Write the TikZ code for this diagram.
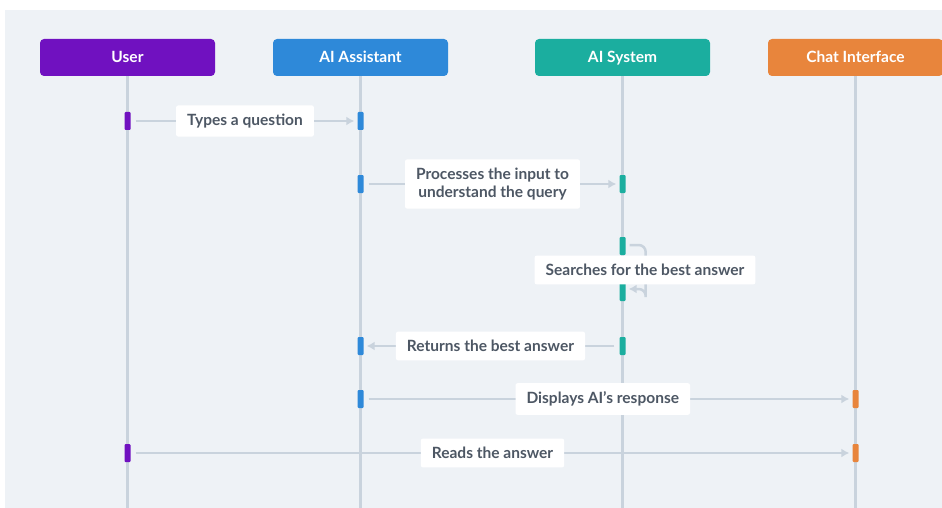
\documentclass[tikz,border=0pt]{standalone}
\usepackage{fontspec}
\setmainfont{Lato}
\usetikzlibrary{arrows.meta}
\definecolor{canvas}{HTML}{EEF2F6}
\definecolor{lifeline}{HTML}{C9D3DD}
\definecolor{msgtext}{HTML}{4D5764}
\definecolor{userc}{HTML}{7011C0}
\definecolor{assistc}{HTML}{2E89D9}
\definecolor{systemc}{HTML}{1BAE9F}
\definecolor{chatc}{HTML}{E8853C}
\tikzset{
  actor/.style={rounded corners=4pt, minimum width=175pt, minimum height=37pt,
    text=white, font=\fontsize{15.5}{18}\selectfont\bfseries, inner sep=0pt,
    text height=11pt, text depth=0pt},
  bar/.style={minimum width=6pt, minimum height=18pt, inner sep=0pt, rounded corners=1pt},
  lbl/.style={fill=white, rounded corners=2pt, text=msgtext, align=center,
    font=\fontsize{15.5}{18}\selectfont\bfseries, inner xsep=11pt, inner ysep=8.5pt},
  lifeln/.style={draw=lifeline, line width=3pt},
  msg/.style={draw=lifeline, line width=2.5pt, -{Latex[length=8pt,width=9pt]}},
}
\begin{document}
\begin{tikzpicture}[x=1pt,y=-1pt]
\useasboundingbox (0,0) rectangle (942,508);
\fill[white] (0,0) rectangle (942,508);
\fill[canvas] (5,10) rectangle (942,508);

% actor headers
\node[actor, fill=userc]   (u) at (127.5,57.5) {User};
\node[actor, fill=assistc] (a) at (360.5,57.5) {AI Assistant};
\node[actor, fill=systemc] (s) at (622.5,57.5) {AI System};
\node[actor, fill=chatc]   (c) at (855.5,57.5) {Chat Interface};

% lifeline ends
\coordinate (ue) at (127.5,508);
\coordinate (ae) at (360.5,508);
\coordinate (se) at (622.5,508);
\coordinate (ce) at (855.5,508);
\draw[lifeln] (u.south) -- (ue);
\draw[lifeln] (a.south) -- (ae);
\draw[lifeln] (s.south) -- (se);
\draw[lifeln] (c.south) -- (ce);

% activation bars
\node[bar, fill=userc]   (b1u) at (127.5,121) {};
\node[bar, fill=assistc] (b1a) at (360.5,121) {};
\node[bar, fill=assistc] (b2a) at (360.5,184) {};
\node[bar, fill=systemc] (b2s) at (622.5,184) {};
\node[bar, fill=systemc] (b3s) at (622.5,246) {};
\node[bar, fill=systemc] (b3t) at (622.5,292) {};
\node[bar, fill=assistc] (b4a) at (360.5,346) {};
\node[bar, fill=systemc] (b4s) at (622.5,346) {};
\node[bar, fill=assistc] (b5a) at (360.5,399) {};
\node[bar, fill=chatc]   (b5c) at (855.5,399) {};
\node[bar, fill=userc]   (b6u) at (127.5,453) {};
\node[bar, fill=chatc]   (b6c) at (855.5,453) {};

% messages
\draw[msg] ([xshift=5pt]b1u.east) -- ([xshift=-3pt]b1a.west)
  node[lbl, midway] (m1) {Types a question};
\draw[msg] ([xshift=5pt]b2a.east) -- ([xshift=-3pt]b2s.west)
  node[lbl, midway] (m2) {Processes the input to\\understand the query};
\draw[msg, rounded corners=7pt] ([xshift=4pt,yshift=1pt]b3s.east) -| ([xshift=20pt]b3t.east)
  -- ([xshift=20pt,yshift=2pt]b3t.east) |- ([xshift=3pt,yshift=3pt]b3t.east);
\node[lbl] (m3) at (645,270) {Searches for the best answer};
\draw[msg] ([xshift=-5pt]b4s.west) -- ([xshift=3pt]b4a.east)
  node[lbl, midway] (m4) {Returns the best answer};
\draw[msg] ([xshift=5pt]b5a.east) -- ([xshift=-3pt]b5c.west)
  node[lbl, pos=0.487] (m5) {Displays AI's response};
\draw[msg] ([xshift=5pt]b6u.east) -- ([xshift=-3pt]b6c.west)
  node[lbl, midway] (m6) {Reads the answer};
\end{tikzpicture}
\end{document}
